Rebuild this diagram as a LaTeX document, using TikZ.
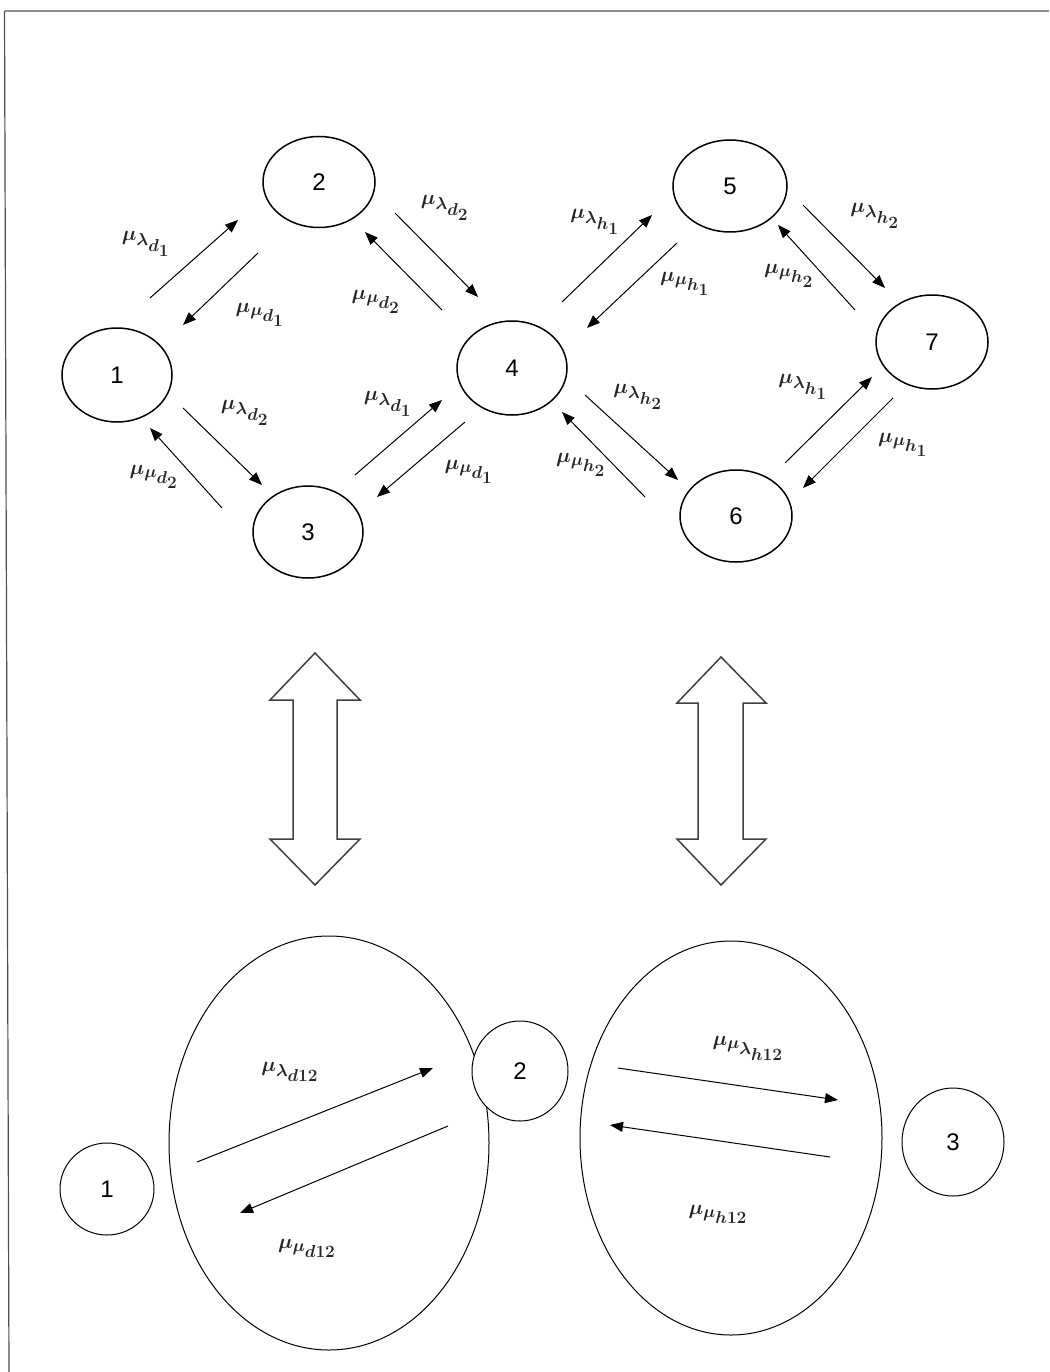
\documentclass[tikz,border=0pt]{standalone}
\usepackage{fontspec}
\setsansfont{Liberation Sans}
\DeclareMathSizes{20.74}{20.74}{17.28}{17.28}
\usetikzlibrary{shapes.geometric,arrows.meta}
\begin{document}
\begin{tikzpicture}[x=1pt,y=-1pt,
  state/.style={draw, ellipse, line width=1.5pt, inner sep=0pt, font=\fontsize{24}{28}\sffamily\selectfont},
  bigell/.style={draw, ellipse, line width=1pt, inner sep=0pt},
  trans/.style={line width=1pt, -{Triangle[length=13pt,width=10pt]}},
  lab/.style={font=\fontsize{20.74}{25}\selectfont\boldmath, inner sep=0pt, text=black!85},
  dbl/.style={draw=black!75, line width=1.5pt, fill=white, line join=miter}]
\useasboundingbox (0,0) rectangle (1049,1372);
% frame
\draw[black!45, line width=1.2pt] (4.5,11) -- (1049,11);
\draw[black!70, line width=1.2pt] (4.5,11) -- (9,1372);

% top cluster nodes
\node[state, minimum width=112pt, minimum height=91pt] (n2) at (319,182) {2};
\node[state, minimum width=110pt, minimum height=94pt] (n1) at (117,375) {1};
\node[state, minimum width=110pt, minimum height=94pt] (n4) at (512,368) {4};
\node[state, minimum width=110pt, minimum height=92pt] (n3) at (308,532) {3};
\node[state, minimum width=114pt, minimum height=92pt] (n5) at (730,186) {5};
\node[state, minimum width=112pt, minimum height=94pt] (n7) at (932,342) {7};
\node[state, minimum width=112pt, minimum height=92pt] (n6) at (736,516) {6};

% arrow end points
\coordinate (a1s) at (150,298); \coordinate (a1e) at (238,220);
\coordinate (a2s) at (258,253); \coordinate (a2e) at (183,325);
\coordinate (a3s) at (395,213); \coordinate (a3e) at (478,297);
\coordinate (a4s) at (442,310); \coordinate (a4e) at (365,232);
\coordinate (a5s) at (183,408); \coordinate (a5e) at (262,485);
\coordinate (a6s) at (222,508); \coordinate (a6e) at (150,428);
\coordinate (a7s) at (355,475); \coordinate (a7e) at (442,400);
\coordinate (a8s) at (465,422); \coordinate (a8e) at (377,497);

\coordinate (b1s) at (562,302); \coordinate (b1e) at (652,215);
\coordinate (b2s) at (677,243); \coordinate (b2e) at (587,328);
\coordinate (b3s) at (803,205); \coordinate (b3e) at (885,288);
\coordinate (b4s) at (855,310); \coordinate (b4e) at (778,225);
\coordinate (b5s) at (585,395); \coordinate (b5e) at (678,480);
\coordinate (b6s) at (645,497); \coordinate (b6e) at (562,412);
\coordinate (b7s) at (785,463); \coordinate (b7e) at (872,377);
\coordinate (b8s) at (893,398); \coordinate (b8e) at (803,488);

\foreach \p in {a1,a2,a3,a4,a5,a6,a7,a8,b1,b2,b3,b4,b5,b6,b7,b8}
  \draw[trans] (\p s) -- (\p e);

% labels top
\node[lab] (l1) at (146,244) {$\mu_{\lambda_{d_1}}$};
\node[lab] (l2) at (260,315) {$\mu_{\mu_{d_1}}$};
\node[lab] (l3) at (445,208) {$\mu_{\lambda_{d_2}}$};
\node[lab] (l4) at (376,302) {$\mu_{\mu_{d_2}}$};
\node[lab] (l5) at (245,413) {$\mu_{\lambda_{d_2}}$};
\node[lab] (l6) at (154,477) {$\mu_{\mu_{d_2}}$};
\node[lab] (l7) at (388,404) {$\mu_{\lambda_{d_1}}$};
\node[lab] (l8) at (469,472) {$\mu_{\mu_{d_1}}$};

\node[lab] (m1) at (595,222) {$\mu_{\lambda_{h_1}}$};
\node[lab] (m2) at (685,284) {$\mu_{\mu_{h_1}}$};
\node[lab] (m3) at (875,216) {$\mu_{\lambda_{h_2}}$};
\node[lab] (m4) at (789,276) {$\mu_{\mu_{h_2}}$};
\node[lab] (m5) at (638,397) {$\mu_{\lambda_{h_2}}$};
\node[lab] (m6) at (581,465) {$\mu_{\mu_{h_2}}$};
\node[lab] (m7) at (803,387) {$\mu_{\lambda_{h_1}}$};
\node[lab] (m8) at (903,445) {$\mu_{\mu_{h_1}}$};

% big double arrows
\draw[dbl] (315,653) -- (360,700) -- (337,700) -- (337,839) -- (360,839) -- (315,885)
  -- (270,839) -- (293,839) -- (293,700) -- (270,700) -- cycle;
\draw[dbl] (721,657) -- (766,703) -- (743,703) -- (743,839) -- (766,839) -- (721,885)
  -- (677,839) -- (698,839) -- (698,703) -- (677,703) -- cycle;

% bottom part
\node[bigell, minimum width=320pt, minimum height=414pt] (e1) at (329,1143) {};
\node[bigell, minimum width=302pt, minimum height=394pt] (e2) at (731,1138) {};
\node[state, line width=1pt, minimum width=94pt, minimum height=92pt] (s1) at (107,1189) {1};
\node[state, line width=1pt, fill=white, minimum width=96pt, minimum height=100pt] (s2) at (520,1071) {2};
\node[state, line width=1pt, minimum width=102pt, minimum height=108pt] (s3) at (953,1142) {3};

\coordinate (c1s) at (197,1162); \coordinate (c1e) at (433,1068);
\coordinate (c2s) at (448,1126); \coordinate (c2e) at (240,1213);
\coordinate (c3s) at (618,1068); \coordinate (c3e) at (838,1100);
\coordinate (c4s) at (830,1157); \coordinate (c4e) at (610,1125);
\foreach \p in {c1,c2,c3,c4}
  \draw[trans] (\p s) -- (\p e);

\node[lab] (k1) at (290,1072) {$\mu_{\lambda_{d12}}$};
\node[lab] (k2) at (307,1248) {$\mu_{\mu_{d12}}$};
\node[lab] (k3) at (748,1048) {$\mu_{\mu_{\lambda_{h12}}}$};
\node[lab] (k4) at (718,1214) {$\mu_{\mu_{h12}}$};
\end{tikzpicture}
\end{document}
